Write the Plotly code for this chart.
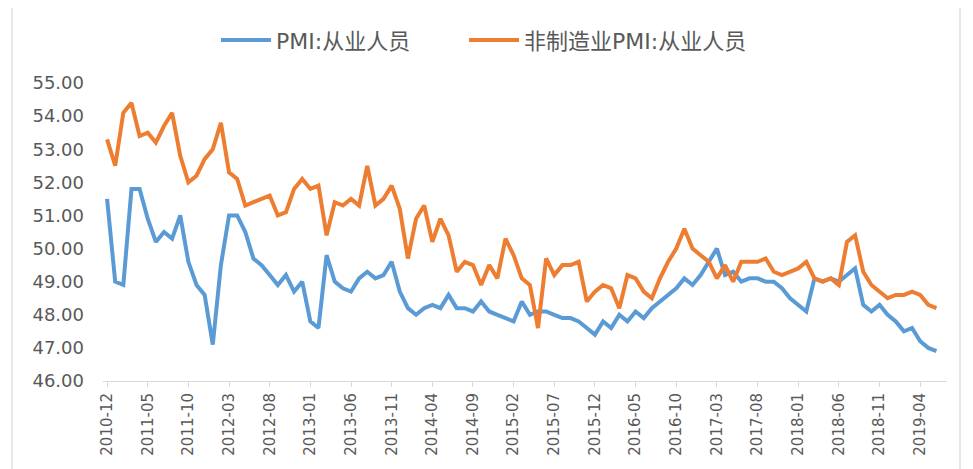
import plotly.graph_objects as go
import pandas as pd

months = pd.period_range("2010-12", "2019-06", freq="M").strftime("%Y-%m").tolist()

pmi_employment = [
    51.5, 49.0, 48.9, 51.8, 51.8, 50.9, 50.2, 50.5, 50.3, 51.0,
    49.6, 48.9, 48.6, 47.1, 49.5, 51.0, 51.0, 50.5, 49.7, 49.5,
    49.2, 48.9, 49.2, 48.7, 49.0, 47.8, 47.6, 49.8, 49.0, 48.8,
    48.7, 49.1, 49.3, 49.1, 49.2, 49.6, 48.7, 48.2, 48.0, 48.2,
    48.3, 48.2, 48.6, 48.2, 48.2, 48.1, 48.4, 48.1, 48.0, 47.9,
    47.8, 48.4, 48.0, 48.1, 48.1, 48.0, 47.9, 47.9, 47.8, 47.6,
    47.4, 47.8, 47.6, 48.0, 47.8, 48.1, 47.9, 48.2, 48.4, 48.6,
    48.8, 49.1, 48.9, 49.2, 49.6, 50.0, 49.2, 49.3, 49.0, 49.1,
    49.1, 49.0, 49.0, 48.8, 48.5, 48.3, 48.1, 49.1, 49.0, 49.1,
    49.0, 49.2, 49.4, 48.3, 48.1, 48.3, 48.0, 47.8, 47.5, 47.6,
    47.2, 47.0, 46.9,
]

nonmfg_employment = [
    53.3, 52.5, 54.1, 54.4, 53.4, 53.5, 53.2, 53.7, 54.1, 52.8,
    52.0, 52.2, 52.7, 53.0, 53.8, 52.3, 52.1, 51.3, 51.4, 51.5,
    51.6, 51.0, 51.1, 51.8, 52.1, 51.8, 51.9, 50.4, 51.4, 51.3,
    51.5, 51.3, 52.5, 51.3, 51.5, 51.9, 51.2, 49.7, 50.9, 51.3,
    50.2, 50.9, 50.4, 49.3, 49.6, 49.5, 48.9, 49.5, 49.1, 50.3,
    49.8, 49.1, 48.9, 47.6, 49.7, 49.2, 49.5, 49.5, 49.6, 48.4,
    48.7, 48.9, 48.8, 48.2, 49.2, 49.1, 48.7, 48.5, 49.1, 49.6,
    50.0, 50.6, 50.0, 49.8, 49.6, 49.1, 49.5, 49.0, 49.6, 49.6,
    49.6, 49.7, 49.3, 49.2, 49.3, 49.4, 49.6, 49.1, 49.0, 49.1,
    48.9, 50.2, 50.4, 49.3, 48.9, 48.7, 48.5, 48.6, 48.6, 48.7,
    48.6, 48.3, 48.2,
]

series_names = ["PMI:从业人员", "非制造业PMI:从业人员"]
series_colors = ["#5B9BD5", "#ED7D31"]

tick_labels = months[::5]
y_ticks = [46, 47, 48, 49, 50, 51, 52, 53, 54, 55]

FONT = "DejaVu Sans, Noto Sans CJK SC, sans-serif"

L, R, T, B = 95, 34, 74, 96
PW = 973 - L - R

fig = go.Figure()
for name, vals, col, lg in zip(series_names, [pmi_employment, nonmfg_employment],
                               series_colors, ["legend", "legend2"]):
    fig.add_trace(go.Scatter(
        x=months, y=vals, mode="lines", name=name, legend=lg,
        line=dict(color=col, width=4),
    ))

legend_style = dict(
    orientation="h", xanchor="left", y=1.14, yanchor="middle",
    font=dict(size=22, color="#595959", family=FONT),
    itemwidth=50, bgcolor="rgba(0,0,0,0)",
)

fig.update_layout(
    width=973, height=469,
    margin=dict(l=L, r=R, t=T, b=B),
    paper_bgcolor="white", plot_bgcolor="white",
    font=dict(family=FONT, color="#595959"),
    showlegend=True,
    legend=dict(x=(218 - 10 - L) / PW, **legend_style),
    legend2=dict(x=(466 - 10 - L) / PW, **legend_style),
    xaxis=dict(
        type="category", range=[-0.5, 103.3],
        tickmode="array", tickvals=tick_labels, ticktext=tick_labels,
        tickangle=-90, tickfont=dict(size=15, color="#595959"),
        showgrid=False, showline=True, linecolor="#D9D9D9", linewidth=1,
        ticks="outside", ticklen=5, tickcolor="#D9D9D9",
        zeroline=False,
    ),
    yaxis=dict(
        range=[46, 55], tickmode="array", tickvals=y_ticks,
        tickformat=".2f", tickfont=dict(size=18, color="#595959"),
        showgrid=False, showline=False, zeroline=False, ticks="",
        ticklabelstandoff=18,
    ),
    shapes=[
        dict(type="line", xref="paper", yref="paper",
             x0=(4 - L) / PW, x1=(4 - L) / PW, y0=-0.4, y1=1.4,
             line=dict(color="#D0D0D0", width=1)),
        dict(type="line", xref="paper", yref="paper",
             x0=(952 - L) / PW, x1=(952 - L) / PW, y0=-0.4, y1=1.4,
             line=dict(color="#D0D0D0", width=1)),
    ],
)

fig.write_html("out.html")
